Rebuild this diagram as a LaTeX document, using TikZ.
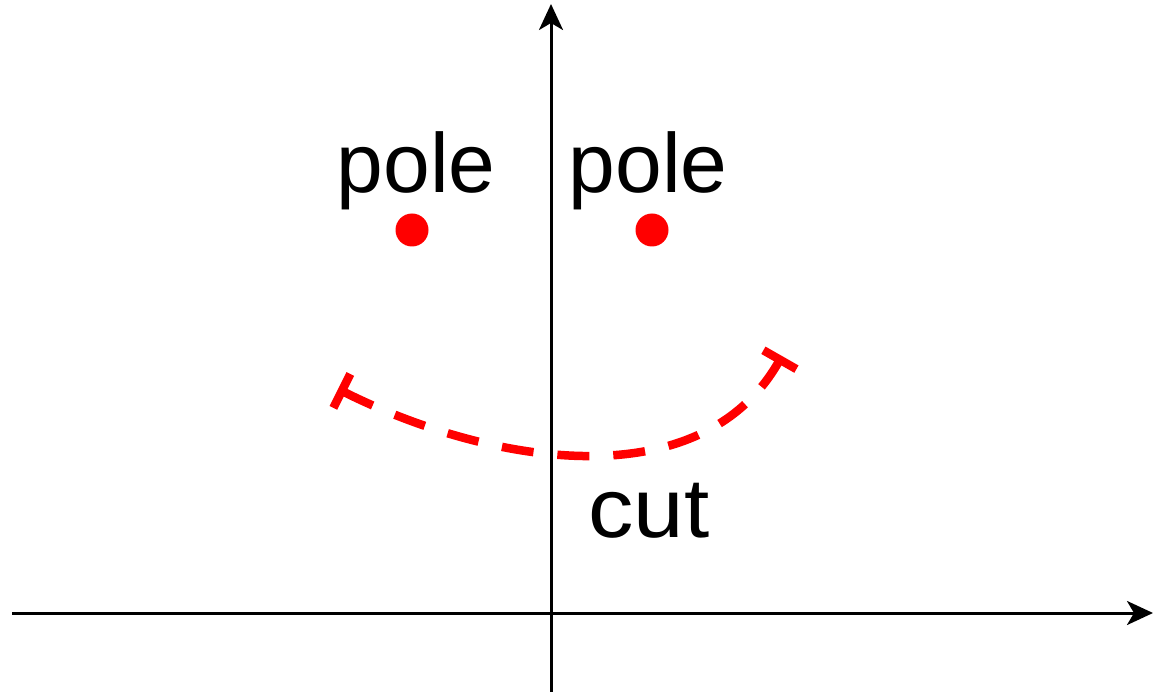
\documentclass[tikz,border=0pt]{standalone}
\usepackage{fontspec}
\setmainfont{Liberation Sans}
\usetikzlibrary{arrows.meta}
\tikzset{
  axis/.style={line width=3pt, -{Stealth[length=26pt, width=24pt, inset=7pt]}},
  poledot/.style={circle, fill=red, draw=none, minimum size=33pt, inner sep=0pt},
  lbl/.style={font=\fontsize{84}{96}\selectfont, anchor=base, inner sep=0pt},
  cutline/.style={red, line width=8.5pt, dash pattern=on 32pt off 24pt, {Bar[width=38pt]}-{Bar[width=38pt]}}
}
\begin{document}
\begin{tikzpicture}[x=1pt, y=-1pt]
\useasboundingbox (0,0) rectangle (1153,692);
\coordinate (yb) at (551,692);
\coordinate (yt) at (551,4);
\coordinate (xl) at (12,613);
\coordinate (xr) at (1153,613);
\draw[axis] (yb) -- (yt);
\draw[axis] (xl) -- (xr);
\node[poledot] (p1) at (412,230) {};
\node[poledot] (p2) at (652,230) {};
\node[lbl] (l1) at (416,193) {pole};
\node[lbl] (l2) at (648,193) {pole};
\node[lbl, xscale=1.08] (lc) at (649,537) {cut};
\coordinate (c1) at (338,389);
\coordinate (c2) at (782,356);
\draw[cutline] (c1) .. controls (490,465) and (700,500) .. (c2);
\end{tikzpicture}
\end{document}
